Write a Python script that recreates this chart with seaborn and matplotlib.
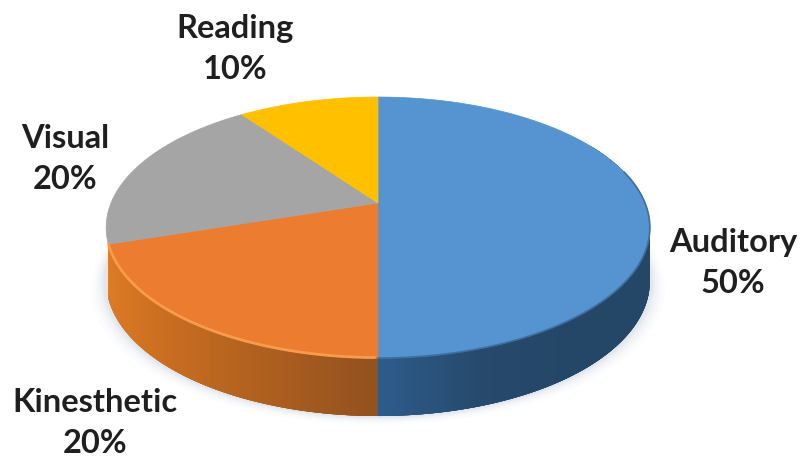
import numpy as np
import matplotlib
matplotlib.use("Agg")
import matplotlib.pyplot as plt
from matplotlib.patches import Polygon
import seaborn as sns

# Learning-style shares, clockwise from twelve o'clock
categories = ["Auditory", "Kinesthetic", "Visual", "Reading"]
shares = [50, 20, 20, 10]

top_colors = ["#5593d1", "#ec7c30", "#a5a5a5", "#ffc000"]
wall_shades = {
    "Auditory": ["#1f3c5a", "#234566", "#244667", "#244768", "#244768", "#26496c", "#2e5d8d"],
    "Kinesthetic": ["#94521f", "#ae5f1f", "#c46b20", "#d47522", "#df7d27"],
}
label_anchor = {
    "Auditory": (733, 263),
    "Kinesthetic": (95, 423),
    "Visual": (65, 159),
    "Reading": (235, 49),
}

sns.set_theme(style="white")
plt.rcParams["font.family"] = ["Lato", "DejaVu Sans"]

# Perspective projection of the disc onto pixel-like axes coordinates
CX, CY = 378.0, 203.0
RX, RY = 267.0, 125.9
TILT = 0.188
WALL = 52.7
VISIBLE_FROM = np.deg2rad(60)


def project(theta):
    s, c = np.sin(theta), np.cos(theta)
    d = 1 + TILT * c
    return CX + RX * s / d, CY - RY * c / d


def project_bottom(theta):
    s, c = np.sin(theta), np.cos(theta)
    d = 1 + TILT * c
    return CX + RX * s / d, CY - RY * c / d + WALL * (1 - 0.1 * c)


fig = plt.figure(figsize=(8.02, 4.59), dpi=100)
ax = fig.add_axes([0, 0, 1, 1])
ax.set_xlim(0, 802)
ax.set_ylim(459, 0)
ax.axis("off")

edges = np.deg2rad(np.cumsum([0] + shares) * 3.6)

# Soft drop shadow around the lower rim
ring = np.linspace(0, 2 * np.pi, 360)
for grow, alpha in zip([15, 11, 8, 5, 3], [0.02, 0.03, 0.04, 0.05, 0.06]):
    bx, by = project_bottom(ring)
    ax.add_patch(Polygon(np.c_[CX + (bx - CX) * (1 + grow / 270), by + grow * 0.55],
                         closed=True, fc="#6f8fae", ec="none", alpha=alpha, zorder=1))

# Side wall: overlapping shaded strips, painted in arc order so no seams show
for name, start, stop in zip(categories, edges[:-1], edges[1:]):
    if name not in wall_shades:
        continue
    lo = max(start, VISIBLE_FROM)
    theta = np.linspace(lo, stop, max(int(np.degrees(stop - lo)) * 2, 2) + 1)
    shades = sns.blend_palette(wall_shades[name], n_colors=len(theta) - 1)
    tx, ty = project(theta)
    bx, by = project_bottom(theta)
    for i in range(len(theta) - 2, -1, -1):
        j = min(i + 4, len(theta) - 1)
        outline = np.r_[np.c_[tx[i:j + 1], ty[i:j + 1]],
                        np.c_[bx[i:j + 1], by[i:j + 1]][::-1]]
        ax.add_patch(Polygon(outline, closed=True, fc=shades[i], ec="none", zorder=2))

# Top face of each slice
for name, color, start, stop in zip(categories, top_colors, edges[:-1], edges[1:]):
    theta = np.linspace(start, stop, 200)
    x, y = project(theta)
    ax.add_patch(Polygon(np.r_[[[CX, CY]], np.c_[x, y]], closed=True, fc=color,
                         ec=color, lw=0.5, zorder=3))

# Bevel highlight along the front of the orange slice
k = categories.index("Kinesthetic")
theta = np.linspace(edges[k] + 0.01, edges[k + 1], 120)
x, y = project(theta)
ax.plot(x, y - 0.5, color="#f89b4c", lw=2.0, zorder=4, solid_capstyle="round")

# Blue slice keeps a slightly softened rim
a = categories.index("Auditory")
theta = np.linspace(np.deg2rad(75), edges[a + 1], 120)
x, y = project(theta)
ax.plot(x, y, color="#3f6f9f", lw=1.2, zorder=4)

for name, share in zip(categories, shares):
    ax.text(*label_anchor[name], f"{name}\n{share}%", ha="center", va="center",
            multialignment="center", fontsize=23.5, fontweight="bold",
            color="#1f1f1f", linespacing=1.5, zorder=5)

fig.savefig("out.png", dpi=100, facecolor="white")
